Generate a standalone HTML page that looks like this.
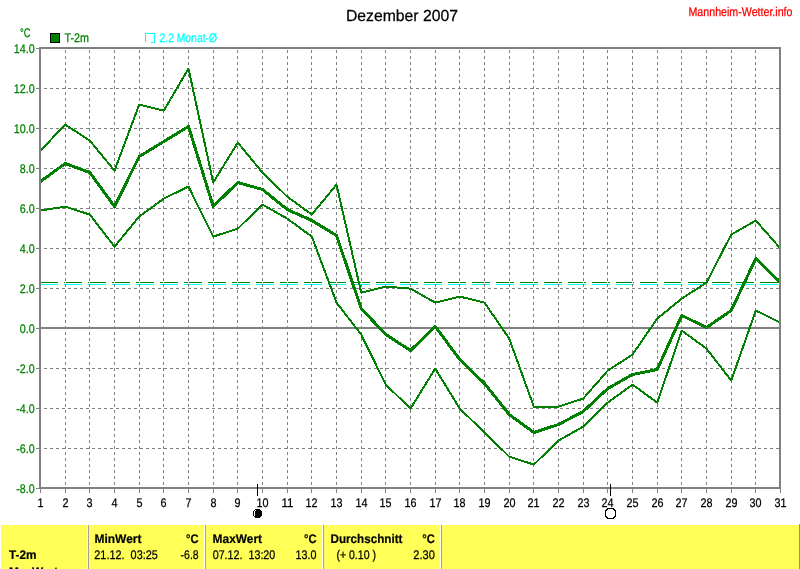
<!DOCTYPE html>
<html lang="de"><head><meta charset="utf-8"><title>Dezember 2007</title>
<style>
html,body{margin:0;padding:0;background:#fff;}
body{width:800px;height:569px;overflow:hidden;position:relative;font-family:"Liberation Sans",sans-serif;}
svg{position:absolute;left:0;top:0;display:block;}
text{font-family:"Liberation Sans",sans-serif;text-rendering:geometricPrecision;}
</style></head><body>
<svg width="800" height="569" viewBox="0 0 800 569">

<g shape-rendering="crispEdges" fill="none">
<path d="M40,284.5H779" stroke="#00ffff" stroke-width="1" stroke-dasharray="18 6"/>
<path d="M40,282.5H779" stroke="#008000" stroke-width="1" stroke-dasharray="18 6"/>
<path d="M38,448.5H779M38,408.5H779M38,368.5H779M38,288.5H779M38,248.5H779M38,208.5H779M38,168.5H779M38,128.5H779M38,88.5H779" stroke="#808080" stroke-width="1" stroke-dasharray="3 3"/>
<path d="M65,282.5h1M89,282.5h1M114,282.5h1M139,282.5h1M163,282.5h1M188,282.5h1M213,282.5h1M237,282.5h1M262,282.5h1M287,282.5h1M311,282.5h1M336,282.5h1M361,282.5h1M385,282.5h1M410,282.5h1M435,282.5h1M459,282.5h1M484,282.5h1M509,282.5h1M533,282.5h1M558,282.5h1M583,282.5h1M607,282.5h1M632,282.5h1M657,282.5h1M681,282.5h1M706,282.5h1M731,282.5h1M755,282.5h1" stroke="#fff" stroke-width="1"/>
<path d="M65.5,50V487M89.5,50V487M114.5,50V487M139.5,50V487M163.5,50V487M188.5,50V487M213.5,50V487M237.5,50V487M262.5,50V487M287.5,50V487M311.5,50V487M336.5,50V487M361.5,50V487M385.5,50V487M410.5,50V487M435.5,50V487M459.5,50V487M484.5,50V487M509.5,50V487M533.5,50V487M558.5,50V487M583.5,50V487M607.5,50V487M632.5,50V487M657.5,50V487M681.5,50V487M706.5,50V487M731.5,50V487M755.5,50V487" stroke="#808080" stroke-width="1" stroke-dasharray="3 3"/>
<rect x="41" y="327" width="738" height="2" fill="#808080"/>
<path d="M36,488.5H39M36,448.5H39M36,408.5H39M36,368.5H39M36,328.5H39M36,288.5H39M36,248.5H39M36,208.5H39M36,168.5H39M36,128.5H39M36,88.5H39M36,48.5H39M40.5,489V493M65.5,489V493M89.5,489V493M114.5,489V493M139.5,489V493M163.5,489V493M188.5,489V493M213.5,489V493M237.5,489V493M262.5,489V493M287.5,489V493M311.5,489V493M336.5,489V493M361.5,489V493M385.5,489V493M410.5,489V493M435.5,489V493M459.5,489V493M484.5,489V493M509.5,489V493M533.5,489V493M558.5,489V493M583.5,489V493M607.5,489V493M632.5,489V493M657.5,489V493M681.5,489V493M706.5,489V493M731.5,489V493M755.5,489V493M780.5,489V493" stroke="#808080" stroke-width="1"/>
</g>
<g fill="none" stroke="#008000" stroke-linejoin="round" shape-rendering="crispEdges" transform="translate(0.5,0.6)">
<polyline points="40.0,150.0 64.7,124.0 89.3,140.0 114.0,170.0 138.7,104.0 163.3,110.0 188.0,68.0 212.7,182.0 237.3,142.0 262.0,172.0 286.7,196.0 311.3,214.0 336.0,184.0 360.7,292.0 385.3,286.0 410.0,288.0 434.7,302.0 459.3,296.0 484.0,302.0 508.7,338.0 533.3,406.0 558.0,406.0 582.7,398.0 607.3,370.0 632.0,354.0 656.7,318.0 681.3,298.0 706.0,282.0 730.7,234.0 755.3,220.0 780.0,248.0" stroke-width="2"/>
<polyline points="40.0,210.0 64.7,206.0 89.3,214.0 114.0,246.0 138.7,216.0 163.3,198.0 188.0,186.0 212.7,236.0 237.3,228.0 262.0,204.0 286.7,218.0 311.3,236.0 336.0,302.0 360.7,334.0 385.3,384.0 410.0,408.0 434.7,368.0 459.3,408.0 484.0,432.0 508.7,456.0 533.3,464.0 558.0,440.0 582.7,426.0 607.3,402.0 632.0,384.0 656.7,402.0 681.3,330.0 706.0,348.0 730.7,380.0 755.3,310.0 780.0,322.0" stroke-width="2"/>
<polyline points="40.0,181.0 64.7,163.0 89.3,172.0 114.0,206.0 138.7,156.0 163.3,141.0 188.0,126.0 212.7,206.0 237.3,182.0 262.0,189.0 286.7,209.0 311.3,220.0 336.0,235.0 360.7,308.0 385.3,334.0 410.0,350.0 434.7,326.0 459.3,359.0 484.0,383.0 508.7,414.0 533.3,432.0 558.0,424.0 582.7,411.0 607.3,388.0 632.0,374.0 656.7,369.0 681.3,315.0 706.0,327.0 730.7,310.0 755.3,258.0 780.0,282.0" stroke-width="3" transform="translate(0,-0.1)"/>
</g>
<rect x="40" y="48" width="740" height="440" fill="none" stroke="#808080" stroke-width="2" shape-rendering="crispEdges"/>
<g shape-rendering="crispEdges"><path d="M257.5,484V496M610.5,484V496" stroke="#000" stroke-width="1"/>
<path d="M255,509H260V510H261V511H262V516H261V517H260V518H255V517H254V516H253V511H254V510H255Z" fill="#000"/>
<path d="M254,511h1v5h-1zM255,510h1v1h-1z" fill="#fff"/>
<path d="M607,508h7v1h-7zM607,518h7v1h-7zM605,511h1v5h-1zM615,511h1v5h-1zM606,509h2v1h-2zM613,509h2v1h-2zM605,510h2v1h-2zM614,510h2v1h-2zM605,516h2v1h-2zM614,516h2v1h-2zM606,517h2v1h-2zM613,517h2v1h-2z" fill="#000"/>
</g>
<text x="346" y="20.7" font-size="16" fill="#000" stroke="#000" stroke-width="0.25" textLength="112" lengthAdjust="spacingAndGlyphs" xml:space="preserve">Dezember 2007</text>
<text x="688.5" y="15.7" font-size="12.5" fill="#ff0000" stroke="#ff0000" stroke-width="0.25" textLength="104" lengthAdjust="spacingAndGlyphs" xml:space="preserve">Mannheim-Wetter.info</text>
<text x="20" y="36.7" font-size="12.5" fill="#008000" stroke="#008000" stroke-width="0.25" textLength="10.5" lengthAdjust="spacingAndGlyphs" xml:space="preserve">°C</text>
<rect x="50.5" y="33.5" width="9" height="9" fill="#008000" stroke="#000" stroke-width="1" shape-rendering="crispEdges"/>
<text x="64.5" y="41.7" font-size="12.5" fill="#008000" stroke="#008000" stroke-width="0.25" textLength="24.5" lengthAdjust="spacingAndGlyphs" xml:space="preserve">T-2m</text>
<path d="M145.5,42V33.5H154.5V42.5H151" fill="none" stroke="#00ffff" stroke-width="1" shape-rendering="crispEdges"/>
<text x="159.5" y="41.7" font-size="12.5" fill="#00ffff" stroke="#00ffff" stroke-width="0.25" textLength="57.5" lengthAdjust="spacingAndGlyphs" xml:space="preserve">2.2 Monat-Ø</text>
<text x="34.7" y="492.7" font-size="12.5" fill="#008000" stroke="#008000" stroke-width="0.25" text-anchor="end" textLength="18.4" lengthAdjust="spacingAndGlyphs" xml:space="preserve">-8.0</text>
<text x="34.7" y="452.7" font-size="12.5" fill="#008000" stroke="#008000" stroke-width="0.25" text-anchor="end" textLength="18.4" lengthAdjust="spacingAndGlyphs" xml:space="preserve">-6.0</text>
<text x="34.7" y="412.7" font-size="12.5" fill="#008000" stroke="#008000" stroke-width="0.25" text-anchor="end" textLength="18.4" lengthAdjust="spacingAndGlyphs" xml:space="preserve">-4.0</text>
<text x="34.7" y="372.7" font-size="12.5" fill="#008000" stroke="#008000" stroke-width="0.25" text-anchor="end" textLength="18.4" lengthAdjust="spacingAndGlyphs" xml:space="preserve">-2.0</text>
<text x="34.7" y="332.7" font-size="12.5" fill="#008000" stroke="#008000" stroke-width="0.25" text-anchor="end" textLength="15" lengthAdjust="spacingAndGlyphs" xml:space="preserve">0.0</text>
<text x="34.7" y="292.7" font-size="12.5" fill="#008000" stroke="#008000" stroke-width="0.25" text-anchor="end" textLength="15" lengthAdjust="spacingAndGlyphs" xml:space="preserve">2.0</text>
<text x="34.7" y="252.7" font-size="12.5" fill="#008000" stroke="#008000" stroke-width="0.25" text-anchor="end" textLength="15" lengthAdjust="spacingAndGlyphs" xml:space="preserve">4.0</text>
<text x="34.7" y="212.7" font-size="12.5" fill="#008000" stroke="#008000" stroke-width="0.25" text-anchor="end" textLength="15" lengthAdjust="spacingAndGlyphs" xml:space="preserve">6.0</text>
<text x="34.7" y="172.7" font-size="12.5" fill="#008000" stroke="#008000" stroke-width="0.25" text-anchor="end" textLength="15" lengthAdjust="spacingAndGlyphs" xml:space="preserve">8.0</text>
<text x="34.7" y="132.7" font-size="12.5" fill="#008000" stroke="#008000" stroke-width="0.25" text-anchor="end" textLength="21" lengthAdjust="spacingAndGlyphs" xml:space="preserve">10.0</text>
<text x="34.7" y="92.7" font-size="12.5" fill="#008000" stroke="#008000" stroke-width="0.25" text-anchor="end" textLength="21" lengthAdjust="spacingAndGlyphs" xml:space="preserve">12.0</text>
<text x="34.7" y="52.7" font-size="12.5" fill="#008000" stroke="#008000" stroke-width="0.25" text-anchor="end" textLength="21" lengthAdjust="spacingAndGlyphs" xml:space="preserve">14.0</text>
<text x="40.5" y="506.7" font-size="12.5" fill="#000" stroke="#000" stroke-width="0.25" text-anchor="middle" textLength="6" lengthAdjust="spacingAndGlyphs" xml:space="preserve">1</text>
<text x="65.5" y="506.7" font-size="12.5" fill="#000" stroke="#000" stroke-width="0.25" text-anchor="middle" textLength="6" lengthAdjust="spacingAndGlyphs" xml:space="preserve">2</text>
<text x="89.5" y="506.7" font-size="12.5" fill="#000" stroke="#000" stroke-width="0.25" text-anchor="middle" textLength="6" lengthAdjust="spacingAndGlyphs" xml:space="preserve">3</text>
<text x="114.5" y="506.7" font-size="12.5" fill="#000" stroke="#000" stroke-width="0.25" text-anchor="middle" textLength="6" lengthAdjust="spacingAndGlyphs" xml:space="preserve">4</text>
<text x="139.5" y="506.7" font-size="12.5" fill="#000" stroke="#000" stroke-width="0.25" text-anchor="middle" textLength="6" lengthAdjust="spacingAndGlyphs" xml:space="preserve">5</text>
<text x="163.5" y="506.7" font-size="12.5" fill="#000" stroke="#000" stroke-width="0.25" text-anchor="middle" textLength="6" lengthAdjust="spacingAndGlyphs" xml:space="preserve">6</text>
<text x="188.5" y="506.7" font-size="12.5" fill="#000" stroke="#000" stroke-width="0.25" text-anchor="middle" textLength="6" lengthAdjust="spacingAndGlyphs" xml:space="preserve">7</text>
<text x="213.5" y="506.7" font-size="12.5" fill="#000" stroke="#000" stroke-width="0.25" text-anchor="middle" textLength="6" lengthAdjust="spacingAndGlyphs" xml:space="preserve">8</text>
<text x="237.5" y="506.7" font-size="12.5" fill="#000" stroke="#000" stroke-width="0.25" text-anchor="middle" textLength="6" lengthAdjust="spacingAndGlyphs" xml:space="preserve">9</text>
<text x="262.5" y="506.7" font-size="12.5" fill="#000" stroke="#000" stroke-width="0.25" text-anchor="middle" textLength="12" lengthAdjust="spacingAndGlyphs" xml:space="preserve">10</text>
<text x="287.5" y="506.7" font-size="12.5" fill="#000" stroke="#000" stroke-width="0.25" text-anchor="middle" textLength="12" lengthAdjust="spacingAndGlyphs" xml:space="preserve">11</text>
<text x="311.5" y="506.7" font-size="12.5" fill="#000" stroke="#000" stroke-width="0.25" text-anchor="middle" textLength="12" lengthAdjust="spacingAndGlyphs" xml:space="preserve">12</text>
<text x="336.5" y="506.7" font-size="12.5" fill="#000" stroke="#000" stroke-width="0.25" text-anchor="middle" textLength="12" lengthAdjust="spacingAndGlyphs" xml:space="preserve">13</text>
<text x="361.5" y="506.7" font-size="12.5" fill="#000" stroke="#000" stroke-width="0.25" text-anchor="middle" textLength="12" lengthAdjust="spacingAndGlyphs" xml:space="preserve">14</text>
<text x="385.5" y="506.7" font-size="12.5" fill="#000" stroke="#000" stroke-width="0.25" text-anchor="middle" textLength="12" lengthAdjust="spacingAndGlyphs" xml:space="preserve">15</text>
<text x="410.5" y="506.7" font-size="12.5" fill="#000" stroke="#000" stroke-width="0.25" text-anchor="middle" textLength="12" lengthAdjust="spacingAndGlyphs" xml:space="preserve">16</text>
<text x="435.5" y="506.7" font-size="12.5" fill="#000" stroke="#000" stroke-width="0.25" text-anchor="middle" textLength="12" lengthAdjust="spacingAndGlyphs" xml:space="preserve">17</text>
<text x="459.5" y="506.7" font-size="12.5" fill="#000" stroke="#000" stroke-width="0.25" text-anchor="middle" textLength="12" lengthAdjust="spacingAndGlyphs" xml:space="preserve">18</text>
<text x="484.5" y="506.7" font-size="12.5" fill="#000" stroke="#000" stroke-width="0.25" text-anchor="middle" textLength="12" lengthAdjust="spacingAndGlyphs" xml:space="preserve">19</text>
<text x="509.5" y="506.7" font-size="12.5" fill="#000" stroke="#000" stroke-width="0.25" text-anchor="middle" textLength="12" lengthAdjust="spacingAndGlyphs" xml:space="preserve">20</text>
<text x="533.5" y="506.7" font-size="12.5" fill="#000" stroke="#000" stroke-width="0.25" text-anchor="middle" textLength="12" lengthAdjust="spacingAndGlyphs" xml:space="preserve">21</text>
<text x="558.5" y="506.7" font-size="12.5" fill="#000" stroke="#000" stroke-width="0.25" text-anchor="middle" textLength="12" lengthAdjust="spacingAndGlyphs" xml:space="preserve">22</text>
<text x="583.5" y="506.7" font-size="12.5" fill="#000" stroke="#000" stroke-width="0.25" text-anchor="middle" textLength="12" lengthAdjust="spacingAndGlyphs" xml:space="preserve">23</text>
<text x="607.5" y="506.7" font-size="12.5" fill="#000" stroke="#000" stroke-width="0.25" text-anchor="middle" textLength="12" lengthAdjust="spacingAndGlyphs" xml:space="preserve">24</text>
<text x="632.5" y="506.7" font-size="12.5" fill="#000" stroke="#000" stroke-width="0.25" text-anchor="middle" textLength="12" lengthAdjust="spacingAndGlyphs" xml:space="preserve">25</text>
<text x="657.5" y="506.7" font-size="12.5" fill="#000" stroke="#000" stroke-width="0.25" text-anchor="middle" textLength="12" lengthAdjust="spacingAndGlyphs" xml:space="preserve">26</text>
<text x="681.5" y="506.7" font-size="12.5" fill="#000" stroke="#000" stroke-width="0.25" text-anchor="middle" textLength="12" lengthAdjust="spacingAndGlyphs" xml:space="preserve">27</text>
<text x="706.5" y="506.7" font-size="12.5" fill="#000" stroke="#000" stroke-width="0.25" text-anchor="middle" textLength="12" lengthAdjust="spacingAndGlyphs" xml:space="preserve">28</text>
<text x="731.5" y="506.7" font-size="12.5" fill="#000" stroke="#000" stroke-width="0.25" text-anchor="middle" textLength="12" lengthAdjust="spacingAndGlyphs" xml:space="preserve">29</text>
<text x="755.5" y="506.7" font-size="12.5" fill="#000" stroke="#000" stroke-width="0.25" text-anchor="middle" textLength="12" lengthAdjust="spacingAndGlyphs" xml:space="preserve">30</text>
<text x="780.5" y="506.7" font-size="12.5" fill="#000" stroke="#000" stroke-width="0.25" text-anchor="middle" textLength="12" lengthAdjust="spacingAndGlyphs" xml:space="preserve">31</text>
<g shape-rendering="crispEdges">
<rect x="1" y="525" width="798" height="44" fill="#ffff57"/>
<rect x="87" y="525" width="1" height="44" fill="#fff"/><rect x="88" y="525" width="1" height="44" fill="#a0a0a0"/>
<rect x="204" y="525" width="1" height="44" fill="#fff"/><rect x="205" y="525" width="1" height="44" fill="#a0a0a0"/>
<rect x="322" y="525" width="1" height="44" fill="#fff"/><rect x="323" y="525" width="1" height="44" fill="#a0a0a0"/>
<rect x="440" y="525" width="1" height="44" fill="#fff"/><rect x="441" y="525" width="1" height="44" fill="#a0a0a0"/>
<rect x="799" y="524" width="1" height="45" fill="#909090"/>
</g>
<text x="9" y="558.7" font-size="12.5" fill="#000" stroke="#000" stroke-width="0.2" font-weight="bold" textLength="27.5" lengthAdjust="spacingAndGlyphs" xml:space="preserve">T-2m</text>
<text x="9" y="575.5" font-size="12.5" fill="#000" stroke="#000" stroke-width="0.2" font-weight="bold" textLength="49" lengthAdjust="spacingAndGlyphs" xml:space="preserve">MaxWert</text>
<text x="94.5" y="542.7" font-size="12.5" fill="#000" stroke="#000" stroke-width="0.2" font-weight="bold" textLength="47" lengthAdjust="spacingAndGlyphs" xml:space="preserve">MinWert</text>
<text x="198.6" y="542.7" font-size="12.5" fill="#000" stroke="#000" stroke-width="0.2" font-weight="bold" text-anchor="end" textLength="12.5" lengthAdjust="spacingAndGlyphs" xml:space="preserve">°C</text>
<text x="94.3" y="558.7" font-size="12.5" fill="#000" stroke="#000" stroke-width="0.25" textLength="63.5" lengthAdjust="spacingAndGlyphs" xml:space="preserve">21.12.  03:25</text>
<text x="198.6" y="558.7" font-size="12.5" fill="#000" stroke="#000" stroke-width="0.25" text-anchor="end" textLength="18" lengthAdjust="spacingAndGlyphs" xml:space="preserve">-6.8</text>
<text x="212.6" y="542.7" font-size="12.5" fill="#000" stroke="#000" stroke-width="0.2" font-weight="bold" textLength="49.4" lengthAdjust="spacingAndGlyphs" xml:space="preserve">MaxWert</text>
<text x="316.6" y="542.7" font-size="12.5" fill="#000" stroke="#000" stroke-width="0.2" font-weight="bold" text-anchor="end" textLength="12.5" lengthAdjust="spacingAndGlyphs" xml:space="preserve">°C</text>
<text x="212.7" y="558.7" font-size="12.5" fill="#000" stroke="#000" stroke-width="0.25" textLength="62.6" lengthAdjust="spacingAndGlyphs" xml:space="preserve">07.12.  13:20</text>
<text x="316.6" y="558.7" font-size="12.5" fill="#000" stroke="#000" stroke-width="0.25" text-anchor="end" textLength="21" lengthAdjust="spacingAndGlyphs" xml:space="preserve">13.0</text>
<text x="330.5" y="542.7" font-size="12.5" fill="#000" stroke="#000" stroke-width="0.2" font-weight="bold" textLength="72" lengthAdjust="spacingAndGlyphs" xml:space="preserve">Durchschnitt</text>
<text x="434.8" y="542.7" font-size="12.5" fill="#000" stroke="#000" stroke-width="0.2" font-weight="bold" text-anchor="end" textLength="12.5" lengthAdjust="spacingAndGlyphs" xml:space="preserve">°C</text>
<text x="336.4" y="558.7" font-size="12.5" fill="#000" stroke="#000" stroke-width="0.25" textLength="39.6" lengthAdjust="spacingAndGlyphs" xml:space="preserve">(+ 0.10 )</text>
<text x="434.8" y="558.7" font-size="12.5" fill="#000" stroke="#000" stroke-width="0.25" text-anchor="end" textLength="21.5" lengthAdjust="spacingAndGlyphs" xml:space="preserve">2.30</text>
</svg></body></html>
